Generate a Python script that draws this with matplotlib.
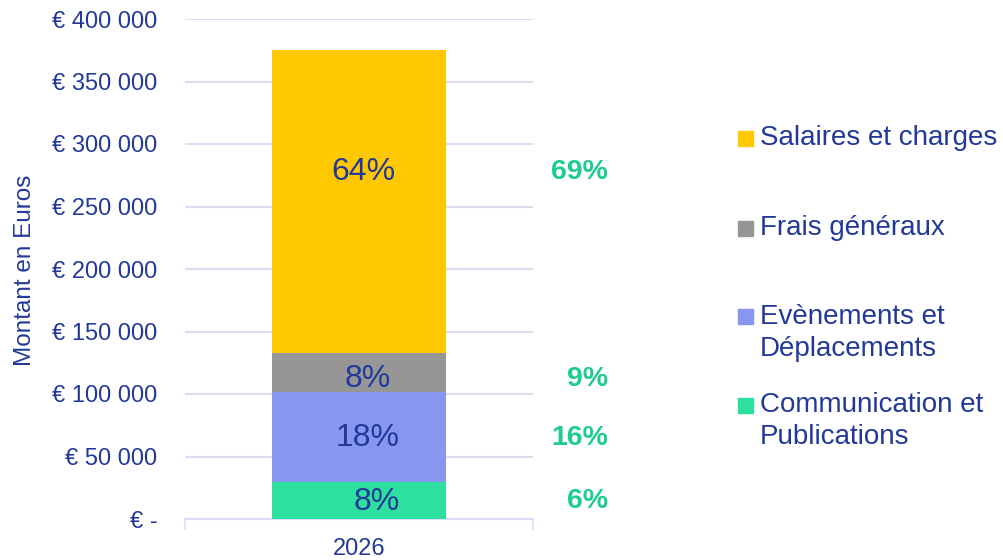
import matplotlib
matplotlib.use("Agg")
import matplotlib.pyplot as plt
from matplotlib.patches import Rectangle
from matplotlib.transforms import blended_transform_factory

plt.rcParams['font.family'] = ['Liberation Sans', 'DejaVu Sans']

# ---- data ----
category = ['2026']
series = ['Communication et\nPublications', 'Evènements et\nDéplacements',
          'Frais généraux', 'Salaires et charges']
values = [29600, 72200, 31200, 242600]
inner_labels = ['8%', '18%', '8%', '64%']
right_labels = ['6%', '16%', '9%', '69%']
yticks = [0, 50000, 100000, 150000, 200000, 250000, 300000, 350000, 400000]
ytick_labels = ['€ -', '€ 50 000', '€ 100 000', '€ 150 000', '€ 200 000',
                '€ 250 000', '€ 300 000', '€ 350 000', '€ 400 000']

# ---- style ----
colors = ['#2DE0A0', '#8796EE', '#969696', '#FFC800']
text_col = '#22399A'
right_col = '#1FCB95'
grid_col = '#D9DEF5'
label_shift = [-800, -800, -5500, 23000]
label_xoff = [0.05, 0.025, 0.025, 0.012]

W, H = 1004, 560
fig = plt.figure(figsize=(W / 100, H / 100), dpi=100)
ax = fig.add_axes([185 / W, (H - 519) / H, 348 / W, 500 / H])

tr = blended_transform_factory(ax.transAxes, ax.transData)
bottom = 0
for v, c, il, rl, sh, xo in zip(values, colors, inner_labels, right_labels, label_shift, label_xoff):
    ax.bar(0, v, width=0.5, bottom=bottom, color=c, zorder=3)
    yc = bottom + v / 2 + sh
    ax.text(xo, yc, il, ha='center', va='center', fontsize=23, color=text_col, zorder=4)
    ax.text(1.2155, yc, rl, ha='right', va='center', fontsize=20.5, fontweight='bold',
            color=right_col, transform=tr, clip_on=False)
    bottom += v

ax.set_xlim(-0.5, 0.5)
ax.set_ylim(0, 400000)
ax.set_yticks(yticks)
ax.set_yticklabels(ytick_labels)
ax.set_xticks([0])
ax.set_xticklabels(category)
ax.set_xticks([-0.5, 0.5], minor=True)
ax.tick_params(axis='x', which='major', length=0, pad=14, labelsize=17, labelcolor=text_col)
ax.tick_params(axis='x', which='minor', length=8, width=1.2, color=grid_col, direction='out')
ax.tick_params(axis='y', length=0, pad=20, labelsize=17, labelcolor=text_col)

ax.grid(axis='y', color=grid_col, linewidth=1.5, zorder=0)
for s in ['top', 'right', 'left']:
    ax.spines[s].set_visible(False)
ax.spines['bottom'].set_color(grid_col)
ax.spines['bottom'].set_linewidth(1.5)

fig.text(25 / W, 1 - 270 / H, 'Montant en Euros', rotation=90, ha='center', va='center',
         fontsize=17.5, color=text_col)

# ---- legend (manual) ----
legend_order = [3, 2, 1, 0]
legend_y = [138, 228, 316.5, 405.5]
for idx, y in zip(legend_order, legend_y):
    fig.patches.append(Rectangle((738 / W, 1 - (y + 7.5) / H), 15 / W, 15 / H,
                                 transform=fig.transFigure, color=colors[idx]))
    fig.text(760 / W, 1 - (y - 13) / H, series[idx], ha='left', va='top',
             fontsize=20, color=text_col, linespacing=1.3)

fig.savefig('out.png', dpi=100)
